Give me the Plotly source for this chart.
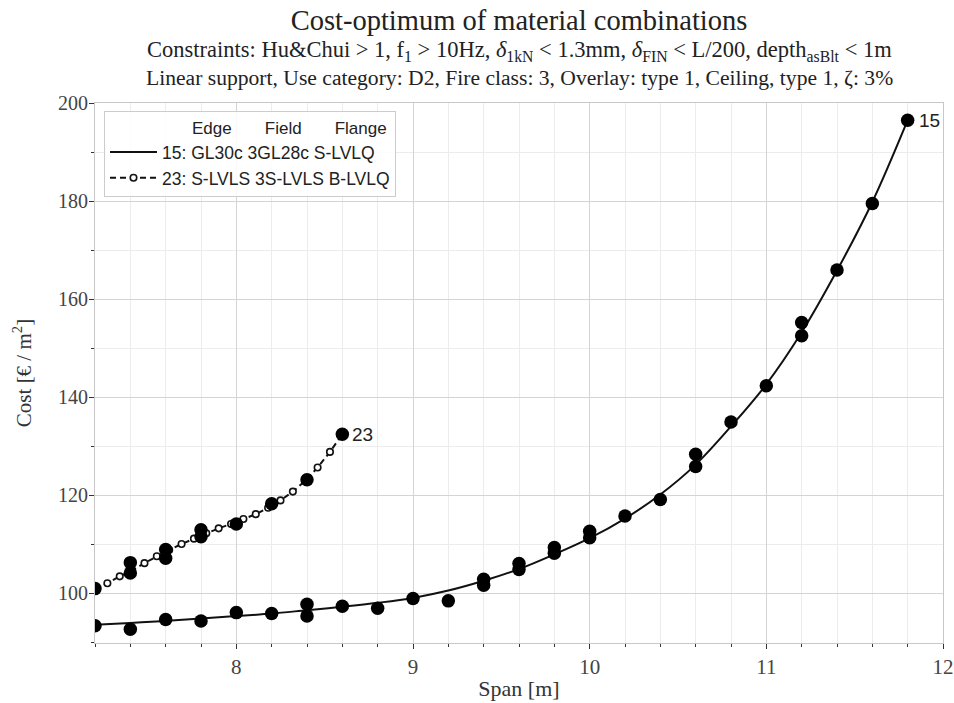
import plotly.graph_objects as go

# ---- data ----
# combination 15 : computed optima (dots)
span15 = [7.2, 7.4, 7.6, 7.8, 8.0, 8.2, 8.4, 8.4, 8.6, 8.8, 9.0, 9.2, 9.4, 9.4,
          9.6, 9.6, 9.8, 9.8, 10.0, 10.0, 10.2, 10.4, 10.6, 10.6, 10.8, 11.0,
          11.2, 11.2, 11.4, 11.6, 11.8]
cost15 = [93.3, 92.6, 94.6, 94.3, 96.0, 95.8, 97.7, 95.3, 97.3, 96.9, 98.9, 98.4, 102.8, 101.6,
          106.0, 104.8, 109.3, 108.1, 112.6, 111.3, 115.7, 119.1, 128.3, 125.8, 134.9, 142.3,
          155.2, 152.5, 165.9, 179.5, 196.5]
# combination 15 : fitted trend line
fit15_x = [7.2, 7.4, 7.6, 7.8, 8.0, 8.2, 8.4, 8.6, 8.8, 9.0, 9.2, 9.4, 9.6, 9.8,
           10.0, 10.2, 10.4, 10.6, 10.8, 11.0, 11.2, 11.4, 11.6, 11.8]
fit15_y = [93.5, 93.9, 94.3, 94.8, 95.3, 95.8, 96.5, 97.2, 98.0, 99.0, 100.5, 102.5, 104.9, 107.9,
           111.2, 115.2, 120.1, 126.2, 134.0, 142.6, 153.2, 165.8, 179.8, 196.5]

# combination 23 : computed optima (dots)
span23 = [7.2, 7.4, 7.4, 7.6, 7.6, 7.8, 7.8, 8.0, 8.2, 8.4, 8.6]
cost23 = [100.9, 106.2, 104.1, 108.9, 107.1, 112.9, 111.5, 114.1, 118.2, 123.1, 132.4]
# combination 23 : fitted trend line (drawn with small open markers)
fit23_x = [7.20, 7.27, 7.34, 7.41, 7.48, 7.55, 7.62, 7.69, 7.76, 7.83, 7.90,
           7.97, 8.04, 8.11, 8.18, 8.25, 8.32, 8.39, 8.46, 8.53, 8.60]
fit23_y = [100.8, 102.0, 103.4, 104.6, 106.1, 107.5, 108.8, 110.0, 111.1, 112.2, 113.2,
           114.1, 115.1, 116.1, 117.4, 118.9, 120.7, 122.9, 125.6, 128.8, 132.4]

name15 = "15: GL30c 3GL28c S-LVLQ"
name23 = "23: S-LVLS 3S-LVLS B-LVLQ"
legend_header = ["Edge", "Field", "Flange"]

x_range = [7.2, 12.0]
y_range = [89.8, 200.0]
x_ticks = [8, 9, 10, 11, 12]
y_ticks = [100, 120, 140, 160, 180, 200]

SERIF = "Liberation Serif, Times New Roman, serif"
SANS = "Liberation Sans, Arial, sans-serif"

fig = go.Figure()

fig.add_trace(go.Scatter(
    x=fit15_x, y=fit15_y, mode="lines", name=name15,
    line=dict(color="#111111", width=2, shape="spline", smoothing=1.0),
))
fig.add_trace(go.Scatter(
    x=fit23_x, y=fit23_y, mode="lines+markers", name=name23,
    line=dict(color="#111111", width=2, dash="6px,4px"),
    marker=dict(symbol="circle", size=6.5, color="white",
                line=dict(color="#111111", width=1.6)),
))
fig.add_trace(go.Scatter(
    x=span15, y=cost15, mode="markers", showlegend=False,
    marker=dict(symbol="circle", size=13.5, color="#000000"),
))
fig.add_trace(go.Scatter(
    x=span23, y=cost23, mode="markers", showlegend=False,
    marker=dict(symbol="circle", size=13.5, color="#000000"),
))

# end-of-series labels
fig.add_annotation(x=span15[-1], y=cost15[-1], text="15", showarrow=False,
                   xanchor="left", yanchor="middle", xshift=9,
                   font=dict(family=SANS, size=19, color="#222222"))
fig.add_annotation(x=span23[-1], y=cost23[-1], text="23", showarrow=False,
                   xanchor="left", yanchor="middle", xshift=8,
                   font=dict(family=SANS, size=19, color="#222222"))

# subtitle lines
sub1 = ("Constraints: Hu&amp;Chui &gt; 1, f<sub>1</sub> &gt; 10Hz, "
        "<i>δ</i><sub>1kN</sub> &lt; 1.3mm, <i>δ</i><sub>FIN</sub> &lt; L/200, "
        "depth<sub>asBlt</sub> &lt; 1m")
sub2 = ("Linear support, Use category: D2, Fire class: 3, Overlay: type 1, "
        "Ceiling, type 1, ζ: 3%")
fig.add_annotation(x=0.5, y=(643 - 51) / 540, xref="paper", yref="paper",
                   text=sub1, showarrow=False, xanchor="center", yanchor="middle",
                   font=dict(family=SERIF, size=22.5, color="#222222"))
fig.add_annotation(x=0.5, y=(643 - 78) / 540, xref="paper", yref="paper",
                   text=sub2, showarrow=False, xanchor="center", yanchor="middle",
                   font=dict(family=SERIF, size=21.6, color="#222222"))

nb = "\u00a0"
header = nb * 18 + legend_header[0] + nb * 7 + legend_header[1] + nb * 7 + legend_header[2]

fig.update_layout(
    width=954, height=703,
    margin=dict(l=95, r=11, t=103, b=60, autoexpand=False),
    paper_bgcolor="white", plot_bgcolor="white",
    title=dict(text="Cost-optimum of material combinations",
               x=(95 + 848 / 2) / 954, xanchor="center",
               y=1 - 20 / 703, yanchor="middle",
               font=dict(family=SERIF, size=28.5, color="#222222")),
    showlegend=True,
    legend=dict(x=9 / 848, y=(643 - 111) / 540, xanchor="left", yanchor="top",
                bgcolor="rgba(255,255,255,0.85)", bordercolor="#cccccc", borderwidth=1,
                font=dict(family=SANS, size=17.5, color="#222222"),
                title=dict(text=header, side="top",
                           font=dict(family=SANS, size=17, color="#222222")),
                itemwidth=47, tracegroupgap=0),
    xaxis=dict(range=x_range, tickvals=x_ticks, automargin=False,
               showgrid=True, gridcolor="#d4d4d4", gridwidth=1,
               zeroline=False, showline=True, linecolor="#c8c8c8", linewidth=1, mirror=True,
               ticks="outside", ticklen=5, tickcolor="#333333",
               minor=dict(dtick=0.2, tick0=7.2, showgrid=True, gridcolor="#ececec",
                          ticks="outside", ticklen=3, tickcolor="#333333"),
               tickfont=dict(family=SERIF, size=21, color="#444444"),
               title=dict(text="Span [m]", standoff=2,
                          font=dict(family=SERIF, size=22, color="#333333"))),
    yaxis=dict(range=y_range, tickvals=y_ticks, automargin=False,
               showgrid=True, gridcolor="#d4d4d4", gridwidth=1,
               zeroline=False, showline=True, linecolor="#c8c8c8", linewidth=1, mirror=True,
               ticks="outside", ticklen=5, tickcolor="#333333",
               minor=dict(dtick=10, tick0=90, showgrid=True, gridcolor="#ececec",
                          ticks="outside", ticklen=3, tickcolor="#333333"),
               tickfont=dict(family=SERIF, size=20, color="#444444"),
               ticklabelstandoff=-3,
               title=dict(text="Cost [€ / m<sup>2</sup>]", standoff=20,
                          font=dict(family=SERIF, size=21, color="#333333"))),
)

fig.write_html("out.html")
